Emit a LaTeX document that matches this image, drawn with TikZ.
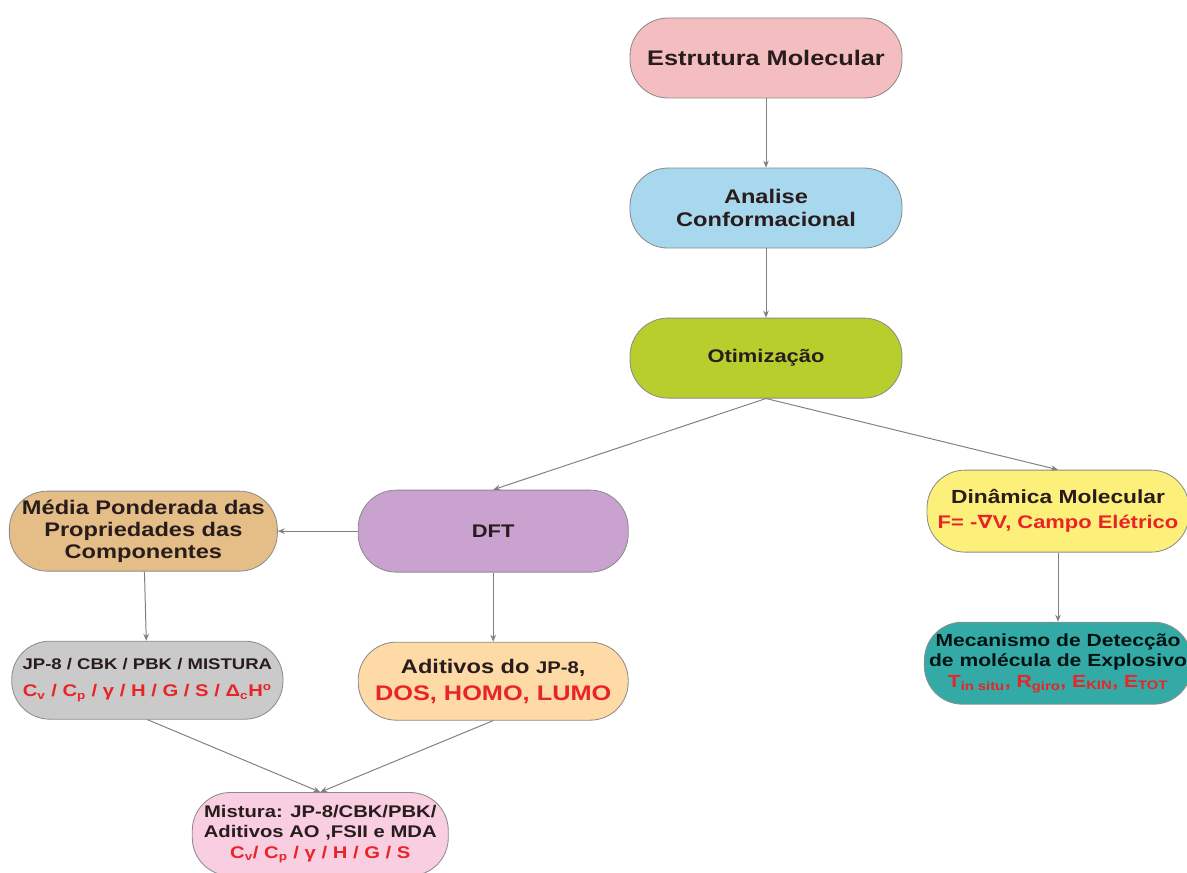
\documentclass[tikz,border=0pt]{standalone}
\usepackage{fontspec}
\setmainfont{Liberation Sans}[FakeStretch=1.2]
\newfontfamily\nablafont{DejaVu Sans}[FakeStretch=1.2]
\usepackage{xcolor}
\usepackage{tikz}
\usetikzlibrary{arrows.meta, positioning, calc}
\definecolor{pinkfill}{RGB}{244, 190, 192}
\definecolor{bluefill}{RGB}{168, 216, 238}
\definecolor{greenfill}{RGB}{184, 206, 44}
\definecolor{lilacfill}{RGB}{201, 162, 208}
\definecolor{tanfill}{RGB}{228, 190, 134}
\definecolor{yellowfill}{RGB}{252, 240, 122}
\definecolor{tealfill}{RGB}{52, 170, 166}
\definecolor{greyfill}{RGB}{202, 202, 202}
\definecolor{peachfill}{RGB}{253, 218, 166}
\definecolor{rosefill}{RGB}{249, 206, 224}
\definecolor{txtred}{RGB}{232, 36, 40}
\definecolor{txtdark}{RGB}{40, 28, 28}
\newcommand{\redtxt}[1]{\textcolor{txtred}{#1}}
\tikzset{
    pill/.style = {rectangle, draw=black!45, line width=0.6pt, rounded corners=0.95cm, minimum width=6.8cm, minimum height=2cm, align=center, text=txtdark, font=\bfseries\fontsize{13}{15}\selectfont},
    arrow/.style = {draw=black!50, line width=0.7pt, -{Stealth[length=5pt, width=4pt]}}
}
\begin{document}
\begin{tikzpicture}[node distance=1.73cm and 2cm]
\useasboundingbox (0,0) rectangle (29.675,-21.825);
% Nodes
\node (estr) [pill, fill=pinkfill, font=\bfseries\fontsize{15}{17}\selectfont] at (19.15,-1.45) {Estrutura Molecular};
\node (anal) [pill, fill=bluefill, below=of estr, font=\bfseries\fontsize{14}{16.5}\selectfont] {Analise\\Conformacional};
\node (otim) [pill, fill=greenfill, below=of anal] {Otimização};

\node (dft) [pill, fill=lilacfill, minimum width=6.75cm, minimum height=2.05cm, below=of otim, xshift=-6.82cm, yshift=-0.55cm] {DFT};
\node (media) [pill, fill=tanfill, minimum width=6.7cm, left=of dft, font=\bfseries\fontsize{14}{15.5}\selectfont] {Média Ponderada das\\Propriedades das\\Componentes};
\node (din) [pill, fill=yellowfill, minimum width=6.55cm, minimum height=2.05cm, below=of otim, xshift=7.3cm, yshift=-0.05cm, font=\bfseries\fontsize{13.5}{18}\selectfont] {Dinâmica Molecular\\\redtxt{\fontsize{13}{15}\selectfont F= -{\nablafont ∇}V, Campo Elétrico}};
\node (meca) [pill, fill=tealfill, minimum width=6.55cm, minimum height=2.05cm, below=of din, text=black!85!teal, font=\bfseries\fontsize{12.5}{14.5}\selectfont] {Mecanismo de Detecção\\de molécula de Explosivo\\\redtxt{T\textsubscript{in situ}, R\textsubscript{giro}, E\textsubscript{KIN}, E\textsubscript{TOT}}};

\node (jp8) [pill, fill=greyfill, minimum width=6.78cm, minimum height=1.95cm, below=of media, xshift=0.1cm, font=\bfseries\fontsize{11}{19}\selectfont] {JP-8 / CBK / PBK / MISTURA\\\redtxt{\fontsize{12}{14}\selectfont C\textsubscript{v} / C\textsubscript{p} / γ / H / G / S / Δ\textsubscript{c}H\textsuperscript{o}}};
\node (adit) [pill, fill=peachfill, minimum width=6.75cm, minimum height=1.95cm, below=of dft, font=\bfseries\fontsize{14}{19}\selectfont] {Aditivos do {\fontsize{12}{14}\selectfont JP-8},\\\redtxt{\fontsize{15}{17}\selectfont DOS, HOMO, LUMO}};
\coordinate (midlow) at ($(jp8.south)!0.5!(adit.south)$);
\node (mist) [pill, fill=rosefill, minimum width=6.4cm, minimum height=2.08cm, below=1.8cm of midlow, font=\bfseries\fontsize{12}{14.5}\selectfont] {Mistura: JP-8/CBK/PBK/\\Aditivos AO ,FSII e MDA\\\redtxt{C\textsubscript{v}/ C\textsubscript{p} / γ / H / G / S}};

% Arrows
\draw [arrow] (estr) -- (anal);
\draw [arrow] (anal) -- (otim);
\draw [arrow] (otim.south) -- (dft.north);
\draw [arrow] (otim.south) -- (din.north);
\draw [arrow] (dft) -- (media);
\draw [arrow] (din) -- (meca);
\draw [arrow] (media) -- (jp8);
\draw [arrow] (dft) -- (adit);
\draw [arrow] (jp8.south) -- (mist.north);
\draw [arrow] (adit.south) -- (mist.north);

\end{tikzpicture}
\end{document}
